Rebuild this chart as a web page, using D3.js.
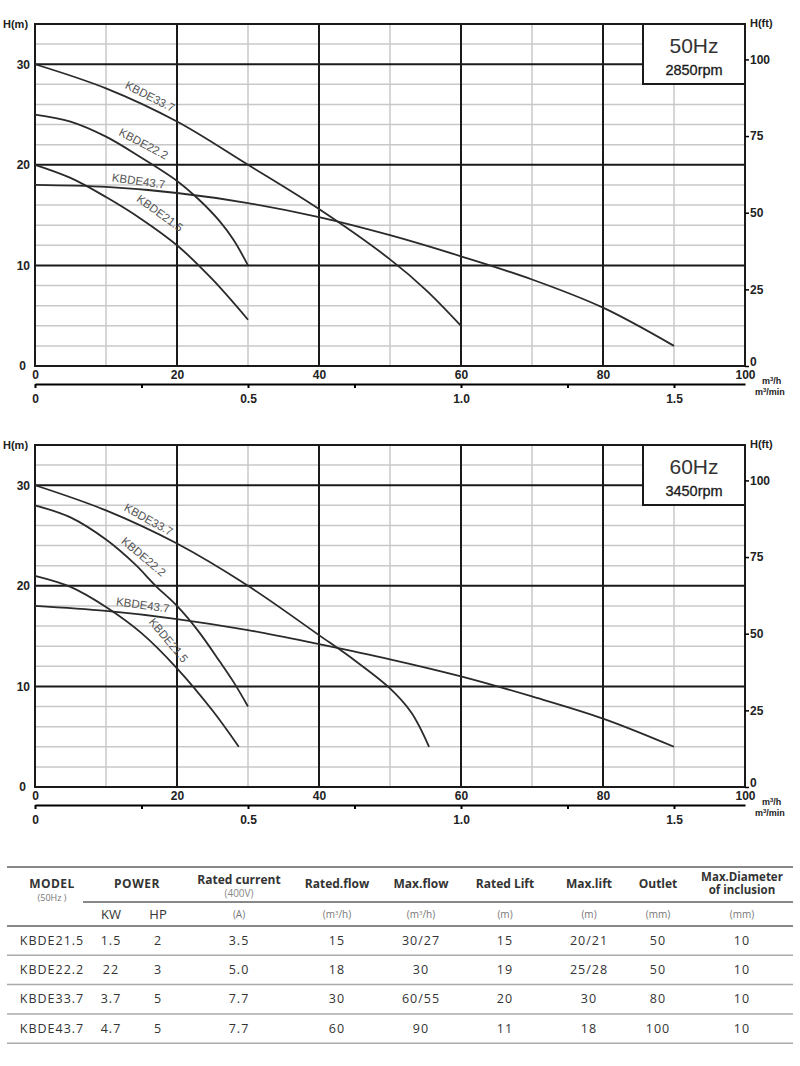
<!DOCTYPE html>
<html>
<head>
<meta charset="utf-8">
<script src="https://cdn.jsdelivr.net/npm/d3@7"></script>
<style>
  body { margin: 0; background: #fff; }
  svg { display: block; }
  .axis text { font-family: "Liberation Sans", Arial, sans-serif; font-weight: bold; font-size: 12px; fill: #222; }
  .tbl { font-family: "Open Sans", sans-serif; fill: #333; }
</style>
</head>
<body>
<div id="root"></div>
<script>
const WIDTH = 800;
const HEIGHT = 1066;
const PLOT = {left: 35, right: 745, top: 24, bottom: 366};
const PANEL_SHIFT = 421;

// curves: [flow m3/h, head m]
const curve50_215 = [[0, 20], [5, 18.7], [10, 16.8], [15, 14.6], [20, 12], [25, 8.6], [30, 4.6]];
const curve50_222 = [[0, 25], [5, 24.3], [10, 22.8], [15, 20.7], [20, 18.4], [23, 16.6], [26, 14.4], [28, 12.5], [30, 10]];
const curve50_337 = [[0, 30], [10, 27.6], [20, 24.3], [30, 20], [40, 15.6], [50, 10.6], [55, 7.6], [60, 4]];
const curve50_437 = [[0, 18], [10, 17.8], [20, 17.2], [30, 16.2], [40, 14.8], [50, 13], [60, 10.9], [70, 8.6], [80, 5.8], [90, 2]];

const curve60_215 = [[0, 21], [5, 19.9], [10, 17.9], [15, 15.3], [20, 11.8], [25, 7.6], [28.7, 4]];
const curve60_222 = [[0, 28], [5, 26.8], [10, 24.6], [14, 22.2], [17, 20], [20, 18], [23, 15.5], [26, 12.5], [28, 10.4], [30, 8]];
const curve60_337 = [[0, 30], [10, 27.5], [20, 24.2], [30, 20], [40, 15.1], [45, 12.6], [50, 9.8], [53, 7.4], [55.5, 4]];
const curve60_437 = [[0, 18], [10, 17.5], [20, 16.7], [30, 15.6], [40, 14.2], [50, 12.7], [60, 11], [70, 9], [80, 6.8], [90, 4]];

const curveNames = ["KBDE21.5", "KBDE22.2", "KBDE33.7", "KBDE43.7"];
const flowTicks = [0, 20, 40, 60, 80, 100];
const headTicks = [0, 10, 20, 30];
const feetTicks = [0, 25, 50, 75, 100];
const minFlowTicks = [0, 0.25, 0.5, 0.75, 1.0, 1.25, 1.5];
const minFlowLabels = [0, 0.5, 1.0, 1.5];

// table
const tableModels = ["KBDE21.5", "KBDE22.2", "KBDE33.7", "KBDE43.7"];
const powerKW = ["1.5", "22", "3.7", "4.7"];
const powerHP = ["2", "3", "5", "5"];
const ratedCurrent = ["3.5", "5.0", "7.7", "7.7"];
const ratedFlow = ["15", "18", "30", "60"];
const maxFlow = ["30/27", "30", "60/55", "90"];
const ratedLift = ["15", "19", "20", "11"];
const maxLift = ["20/21", "25/28", "30", "18"];
const outletMM = ["50", "50", "80", "100"];
const maxDiameter = ["10", "10", "10", "10"];

// label placement along curves (flow, head, rotation)
const labels50 = [
  {q: 17.6, h: 15.2, a: 36},
  {q: 15.3, h: 22.1, a: 28},
  {q: 16.2, h: 26.8, a: 27},
  {q: 14.6, h: 18.4, a: 8}
];
const labels60 = [
  {q: 18.8, h: 14.6, a: 50},
  {q: 15.3, h: 22.9, a: 40},
  {q: 16.0, h: 26.6, a: 29},
  {q: 15.2, h: 18.1, a: 8}
];

const svg = d3.select("#root")
    .append("svg")
    .attr("width", WIDTH)
    .attr("height", HEIGHT);

const x = d3.scaleLinear().domain([0, 100]).range([PLOT.left, PLOT.right]);
const xMin = d3.scaleLinear().domain([0, 100 / 60]).range([PLOT.left, PLOT.right]);
const y = d3.scaleLinear().domain([0, 34]).range([PLOT.bottom, PLOT.top]);
const yFt = d3.scaleLinear().domain([0, 34 * 3.28084]).range([PLOT.bottom, PLOT.top]);

const line = d3.line()
    .x(d => x(d[0]))
    .y(d => y(d[1]))
    .curve(d3.curveCatmullRom.alpha(0.5));

function drawPanel(offset, curves, labels, freq, rpm) {
    const g = svg.append("g").attr("transform", `translate(0, ${offset})`);

    // minor grid
    g.append("g").selectAll("line")
        .data(d3.range(10, 100, 20))
        .join("line")
        .attr("x1", d => x(d)).attr("x2", d => x(d))
        .attr("y1", y(0)).attr("y2", y(34))
        .attr("stroke", "#c8c8c8").attr("stroke-width", 1.5);
    g.append("g").selectAll("line")
        .data(d3.range(2, 34, 2).filter(d => d % 10 !== 0))
        .join("line")
        .attr("x1", x(0)).attr("x2", x(100))
        .attr("y1", d => y(d)).attr("y2", d => y(d))
        .attr("stroke", "#c8c8c8").attr("stroke-width", 1.5);

    // major grid
    g.append("g").selectAll("line")
        .data([20, 40, 60, 80])
        .join("line")
        .attr("x1", d => x(d)).attr("x2", d => x(d))
        .attr("y1", y(0)).attr("y2", y(34))
        .attr("stroke", "#1a1a1a").attr("stroke-width", 2);
    g.append("g").selectAll("line")
        .data([10, 20, 30])
        .join("line")
        .attr("x1", x(0)).attr("x2", x(100))
        .attr("y1", d => y(d)).attr("y2", d => y(d))
        .attr("stroke", "#1a1a1a").attr("stroke-width", 2);

    g.append("rect")
        .attr("x", x(0)).attr("y", y(34))
        .attr("width", x(100) - x(0)).attr("height", y(0) - y(34))
        .attr("fill", "none").attr("stroke", "#1a1a1a").attr("stroke-width", 2);

    // legend box
    g.append("rect")
        .attr("x", 643).attr("y", y(34))
        .attr("width", x(100) - 643).attr("height", 60)
        .attr("fill", "#fff").attr("stroke", "#1a1a1a").attr("stroke-width", 2);
    g.append("text")
        .attr("x", 694).attr("y", y(34) + 29)
        .attr("text-anchor", "middle")
        .style("font-family", "Liberation Sans, Arial, sans-serif")
        .style("font-size", "21px").style("fill", "#333")
        .text(freq);
    g.append("text")
        .attr("x", 694).attr("y", y(34) + 51)
        .attr("text-anchor", "middle")
        .style("font-family", "Liberation Sans, Arial, sans-serif")
        .style("font-size", "14.5px").style("fill", "#1a1a1a")
        .style("stroke", "#1a1a1a").style("stroke-width", 0.3)
        .text(rpm);

    // curves
    g.append("g").selectAll("path")
        .data(curves)
        .join("path")
        .attr("d", d => line(d))
        .attr("fill", "none").attr("stroke", "#2a2a2a").attr("stroke-width", 1.8);

    g.append("g").selectAll("text")
        .data(labels)
        .join("text")
        .attr("transform", d => `translate(${x(d.q)},${y(d.h)}) rotate(${d.a})`)
        .attr("text-anchor", "middle")
        .attr("dy", "0.35em")
        .style("font-family", "Liberation Sans, Arial, sans-serif")
        .style("font-size", "11.5px").style("fill", "#555")
        .text((d, i) => curveNames[i]);

    // axes
    const xAxis = g.append("g").attr("class", "axis")
        .attr("transform", `translate(0, ${y(0)})`)
        .call(d3.axisBottom(x).tickValues(flowTicks).tickSize(0).tickPadding(4).tickFormat(d3.format("d")));
    xAxis.select(".domain").remove();

    const minAxis = g.append("g").attr("class", "axis")
        .attr("transform", `translate(0, ${y(0) + 18})`)
        .call(d3.axisBottom(xMin).tickValues(minFlowTicks).tickSize(4).tickSizeOuter(0).tickPadding(6)
            .tickFormat(d => minFlowLabels.includes(d) ? (d === 0 ? "0" : d3.format(".1f")(d)) : ""));
    minAxis.select(".domain").attr("stroke-width", 2);
    minAxis.selectAll(".tick line").attr("stroke-width", 2);

    const yAxis = g.append("g").attr("class", "axis")
        .attr("transform", `translate(${x(0)}, 0)`)
        .call(d3.axisLeft(y).tickValues(headTicks).tickSize(0).tickPadding(5));
    yAxis.select(".domain").remove();
    yAxis.selectAll(".tick").filter(d => d === 0).select("text").attr("x", -9);

    const ftAxis = g.append("g").attr("class", "axis")
        .attr("transform", `translate(${x(100)}, 0)`)
        .call(d3.axisRight(yFt).tickValues(feetTicks).tickSize(4).tickPadding(1));
    ftAxis.select(".domain").remove();
    ftAxis.selectAll(".tick line").attr("stroke-width", 1.5);
    ftAxis.selectAll(".tick").filter(d => d === 0).select("text").attr("dy", "-0.05em");

    const unitStyle = sel => sel
        .style("font-family", "Liberation Sans, Arial, sans-serif")
        .style("font-weight", "bold").style("fill", "#222");
    g.append("text").attr("x", 3).attr("y", y(34) + 4).style("font-size", "11px").call(unitStyle).text("H(m)");
    g.append("text").attr("x", 750).attr("y", y(34) + 3).style("font-size", "11px").call(unitStyle).text("H(ft)");
    const mh = g.append("text").attr("x", 762).attr("y", y(0) + 18).style("font-size", "9px").call(unitStyle);
    mh.append("tspan").text("m");
    mh.append("tspan").attr("dy", -3).style("font-size", "6px").text("3");
    mh.append("tspan").attr("dy", 3).text("/h");
    const mm = g.append("text").attr("x", 755).attr("y", y(0) + 29).style("font-size", "9px").call(unitStyle);
    mm.append("tspan").text("m");
    mm.append("tspan").attr("dy", -3).style("font-size", "6px").text("3");
    mm.append("tspan").attr("dy", 3).text("/min");
}

drawPanel(0, [curve50_215, curve50_222, curve50_337, curve50_437], labels50, "50Hz", "2850rpm");
drawPanel(PANEL_SHIFT, [curve60_215, curve60_222, curve60_337, curve60_437], labels60, "60Hz", "3450rpm");

// ---- table ----
const T = {left: 7, right: 793, top: 867, sub: 902, head: 926, row: 29.3};
const colX = [52, 111, 158, 239, 337, 421, 505, 589, 658, 742];
const tbl = svg.append("g").attr("class", "tbl");

const hline = (yy, x1, w, c) => tbl.append("line")
    .attr("x1", x1).attr("x2", T.right).attr("y1", yy).attr("y2", yy)
    .attr("stroke", c).attr("stroke-width", w);

hline(T.top, T.left, 2, "#888");
hline(T.sub, 83, 2, "#888");
hline(T.head, T.left, 2, "#888");

const headText = (xx, yy, txt, size, weight, fill) => tbl.append("text")
    .attr("x", xx).attr("y", yy).attr("text-anchor", "middle")
    .style("font-size", size).style("font-weight", weight).style("fill", fill)
    .text(txt);

headText(colX[0], 888, "MODEL", "12px", "bold", "#333").style("letter-spacing", "0.5px");
headText(colX[0], 901, "(50Hz )", "9px", "normal", "#777");
headText(137, 888, "POWER", "12px", "bold", "#333").style("letter-spacing", "0.5px");
headText(colX[3], 884, "Rated current", "12px", "bold", "#333");
headText(colX[3], 897, "(400V)", "10px", "normal", "#888");
headText(colX[4], 888, "Rated.flow", "12px", "bold", "#333");
headText(colX[5], 888, "Max.flow", "12px", "bold", "#333");
headText(colX[6], 888, "Rated Lift", "12px", "bold", "#333");
headText(colX[7], 888, "Max.lift", "12px", "bold", "#333");
headText(colX[8], 888, "Outlet", "12px", "bold", "#333");
headText(colX[9], 881, "Max.Diameter", "11.5px", "bold", "#333");
headText(colX[9], 894, "of inclusion", "11.5px", "bold", "#333");

headText(colX[1], 919, "KW", "13px", "normal", "#333");
headText(colX[2], 919, "HP", "13px", "normal", "#333");
const unitRow = ["(A)", "(m3/h)", "(m3/h)", "(m)", "(m)", "(mm)", "(mm)"];
unitRow.forEach((u, i) => {
    const t = tbl.append("text").attr("x", colX[i + 3]).attr("y", 918).attr("text-anchor", "middle")
        .style("font-size", "10px").style("fill", "#777");
    if (u.includes("3")) {
        t.append("tspan").text("(m");
        t.append("tspan").attr("dy", -3).style("font-size", "6px").text("3");
        t.append("tspan").attr("dy", 3).text("/h)");
    } else {
        t.text(u);
    }
});

const columns = [tableModels, powerKW, powerHP, ratedCurrent, ratedFlow, maxFlow, ratedLift, maxLift, outletMM, maxDiameter];
tableModels.forEach((m, r) => {
    const cy = T.head + T.row * (r + 0.5) + 4;
    columns.forEach((col, c) => {
        tbl.append("text")
            .attr("x", colX[c]).attr("y", cy).attr("text-anchor", "middle")
            .style("font-size", "12.5px").style("letter-spacing", "1px").style("fill", "#333")
            .text(col[r]);
    });
    hline(T.head + T.row * (r + 1), T.left, 1.5, "#aaa");
});
</script>
</body>
</html>
